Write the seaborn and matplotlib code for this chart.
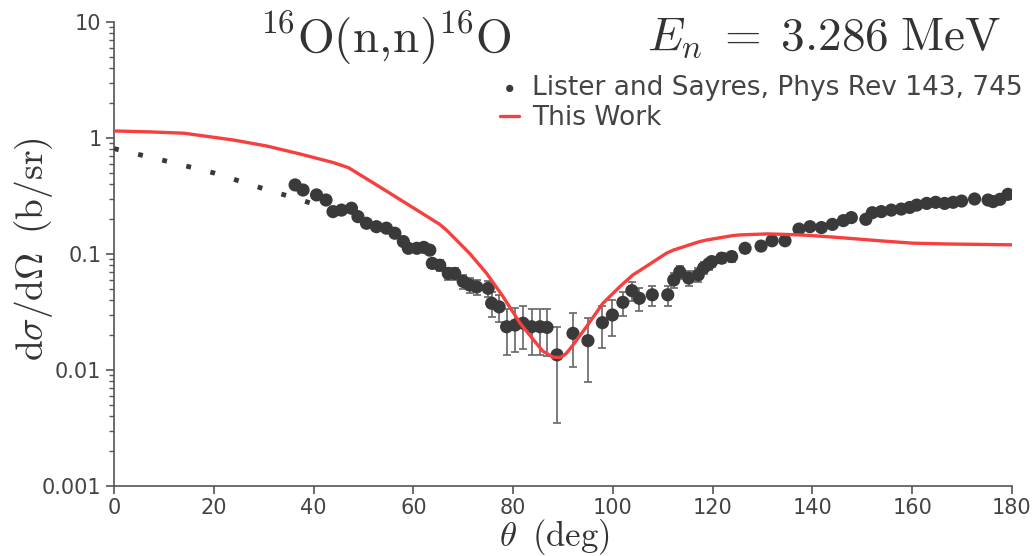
import numpy as np
import pandas as pd
import matplotlib
matplotlib.use("Agg")
import matplotlib.pyplot as plt
import seaborn as sns

# ---------------- data ----------------
# Lister and Sayres data (theta in deg, dsigma/dOmega in b/sr)
exp_theta = [36.3, 37.9, 40.6, 42.5, 43.9, 45.6, 47.6, 48.9, 50.6, 52.6,
             54.6, 56.3, 58.0, 59.0, 60.7, 62.1, 63.3, 63.8, 65.3, 67.0,
             68.3, 70.0, 71.3, 72.7, 75.0, 75.7, 77.2, 78.7, 80.4, 82.0,
             83.7, 85.4, 86.8, 88.8, 92.0, 95.0, 97.9, 99.9, 102.0, 103.8,
             105.3, 107.9, 111.0, 112.2, 113.4, 115.2, 117.1, 118.2, 119.2, 119.8,
             121.8, 123.8, 126.5, 129.7, 131.9, 134.5, 137.3, 139.5, 141.8, 144.0,
             146.2, 147.8, 150.7, 152.0, 153.8, 155.8, 157.8, 159.5, 160.9, 162.9,
             164.7, 166.5, 168.2, 169.9, 172.5, 175.2, 176.2, 177.6, 179.2]
exp_xs = [0.394, 0.356, 0.323, 0.292, 0.232, 0.239, 0.248, 0.210, 0.184, 0.172,
          0.167, 0.151, 0.128, 0.112, 0.112, 0.114, 0.108, 0.083, 0.080, 0.068,
          0.068, 0.058, 0.054, 0.052, 0.0506, 0.0376, 0.035, 0.0236, 0.0244, 0.0253,
          0.0236, 0.0236, 0.0233, 0.0135, 0.0207, 0.0179, 0.0256, 0.0298, 0.0383, 0.0483,
          0.0415, 0.0445, 0.0445, 0.0597, 0.070, 0.062, 0.066, 0.076, 0.082, 0.086,
          0.092, 0.095, 0.112, 0.117, 0.130, 0.130, 0.164, 0.172, 0.169, 0.180,
          0.194, 0.206, 0.199, 0.227, 0.232, 0.239, 0.244, 0.252, 0.264, 0.273,
          0.279, 0.273, 0.279, 0.286, 0.298, 0.292, 0.283, 0.296, 0.327]
exp_err = [0.008, 0.008, 0.008, 0.008, 0.008, 0.008, 0.008, 0.008, 0.008, 0.008,
           0.008, 0.008, 0.008, 0.008, 0.008, 0.008, 0.008, 0.008, 0.008, 0.008,
           0.008, 0.008, 0.008, 0.008, 0.008, 0.009, 0.009, 0.010, 0.010, 0.010,
           0.010, 0.010, 0.010, 0.010, 0.010, 0.010, 0.010, 0.010, 0.009, 0.009,
           0.009, 0.009, 0.009, 0.009, 0.009, 0.009, 0.009, 0.009, 0.009, 0.009,
           0.009, 0.009, 0.009, 0.009, 0.009, 0.009, 0.009, 0.009, 0.009, 0.009,
           0.009, 0.009, 0.009, 0.009, 0.009, 0.009, 0.009, 0.009, 0.009, 0.009,
           0.009, 0.009, 0.009, 0.009, 0.009, 0.009, 0.009, 0.009, 0.009]

# Forward-angle dotted extension
ext_theta = [0, 10, 20, 30, 35, 40]
ext_xs = [0.81, 0.64, 0.50, 0.365, 0.315, 0.27]

# This Work (calculation)
calc_theta = [0, 7, 14, 24, 30.6, 37.3, 43.9, 47, 53.3, 60,
              65.3, 66.7, 71.3, 74.7, 78, 81.4, 84.4, 86, 88, 89.4, 90.6,
              92, 94.7, 98, 101.4, 104, 105.4, 110.8, 112.1, 117.4, 118.8,
              124, 125.4, 130.9, 133.5, 137.5, 140.1, 146.9, 153.5, 160.1, 166.9,
              180]
calc_xs = [1.15, 1.13, 1.10, 0.96, 0.853, 0.728, 0.615, 0.555, 0.378, 0.25,
           0.180, 0.160, 0.101, 0.068, 0.0428, 0.0253, 0.0175, 0.0145, 0.0129, 0.0128, 0.0138,
           0.0164, 0.0236, 0.0376, 0.0523, 0.066, 0.072, 0.102, 0.108, 0.128, 0.132,
           0.144, 0.146, 0.149, 0.148, 0.146, 0.144, 0.137, 0.130, 0.124, 0.122,
           0.120]

x_ticks = [0, 20, 40, 60, 80, 100, 120, 140, 160, 180]
y_ticks = [0.001, 0.01, 0.1, 1, 10]
y_ticklabels = ["0.001", "0.01", "0.1", "1", "10"]

exp_label = "Lister and Sayres, Phys Rev 143, 745"
calc_label = "This Work"

# ---------------- style ----------------
sns.set_style("ticks")
plt.rcParams["font.family"] = ["DejaVu Sans"]
plt.rcParams["mathtext.fontset"] = "cm"

DARK = "#3a3a3a"
AXC = "#555555"
RED = "#f5403f"

fig = plt.figure(figsize=(10.34, 5.56), dpi=100)
ax = fig.add_axes([114 / 1034, 1 - 486 / 556, (1012 - 114) / 1034, (486 - 22) / 556])

df_exp = pd.DataFrame({"theta": exp_theta, "xs": exp_xs, "err": exp_err})
df_ext = pd.DataFrame({"theta": ext_theta, "xs": ext_xs})
df_calc = pd.DataFrame({"theta": calc_theta, "xs": calc_xs})

ax.errorbar(df_exp["theta"], df_exp["xs"], yerr=df_exp["err"], fmt="none",
            ecolor="#666666", elinewidth=1.2, capsize=3, capthick=1.2, zorder=2)
sns.scatterplot(data=df_exp, x="theta", y="xs", ax=ax, color=DARK, s=90,
                edgecolor="none", label=exp_label, zorder=3)
sns.lineplot(data=df_ext, x="theta", y="xs", ax=ax, color=DARK, lw=3.5,
             linestyle=(0, (1, 4.1)), zorder=3, legend=False)
ax.lines[-1].set_dash_capstyle("butt")
sns.lineplot(data=df_calc, x="theta", y="xs", ax=ax, color=RED, lw=2.4,
             label=calc_label, zorder=4)
ax.lines[-1].set_solid_joinstyle("round")

ax.set_yscale("log")
ax.set_xlim(0, 180)
ax.set_ylim(0.001, 10)
ax.set_xticks(x_ticks)
ax.set_yticks(y_ticks)
ax.set_yticklabels(y_ticklabels)
ax.minorticks_on()
ax.xaxis.set_minor_locator(matplotlib.ticker.NullLocator())
ax.tick_params(axis="both", which="major", direction="out", length=6, width=1.2,
               color=AXC, labelcolor="#444444", labelsize=15, pad=3)
ax.tick_params(axis="y", which="minor", direction="out", length=3.5, width=1.0, color=AXC)
for side in ["top", "right"]:
    ax.spines[side].set_visible(False)
for side in ["left", "bottom"]:
    ax.spines[side].set_color(AXC)
    ax.spines[side].set_linewidth(1.2)

ax.set_xlabel(r"$\theta\;\;\mathrm{(deg)}$", fontsize=25, color="#333333")
ax.xaxis.set_label_coords(0.491, -0.066)
ax.set_ylabel(r"$\mathrm{d}\sigma/\mathrm{d}\Omega\;\;\mathrm{(b/sr)}$", fontsize=27,
              color="#333333")
ax.yaxis.set_label_coords(-0.066, 0.51)

ax.text(0.302, 0.966, r"$^{16}\mathrm{O(n,}\!\mathrm{n)}^{16}\mathrm{O}$", transform=ax.transAxes,
        ha="center", va="center", fontsize=34, color="#333333")
ax.text(0.987, 0.966, r"$E_n\;=\;3.286\;\mathrm{MeV}$", transform=ax.transAxes,
        ha="right", va="center", fontsize=34, color="#333333")

leg = ax.legend(loc="upper right", bbox_to_anchor=(1.012, 0.885), frameon=False,
                fontsize=19, handlelength=0.7, handletextpad=0.5, borderaxespad=0,
                borderpad=0, labelspacing=0.15, markerscale=0.55)
for t in leg.get_texts():
    t.set_color("#444444")

fig.savefig("out.png", dpi=100)
